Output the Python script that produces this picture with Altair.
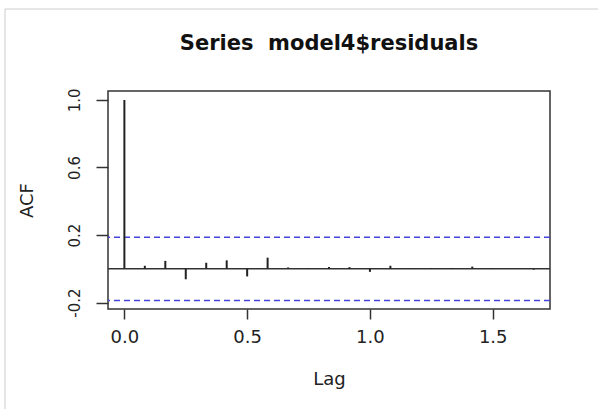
import altair as alt
import pandas as pd

# ---- data ----
lags = [0.0, 0.0833, 0.1667, 0.25, 0.3333, 0.4167, 0.5, 0.5833, 0.6667, 0.75,
        0.8333, 0.9167, 1.0, 1.0833, 1.1667, 1.25, 1.3333, 1.4167, 1.5, 1.5833, 1.6667]
acf_vals = [1.0, 0.018, 0.047, -0.062, 0.036, 0.05, -0.045, 0.066, 0.008, 0.002,
            0.01, 0.01, -0.018, 0.018, 0.002, 0.004, 0.005, 0.013, 0.004, 0.0, -0.005]
ci = 0.187
x_ticks = [0.0, 0.5, 1.0, 1.5]
y_ticks = [-0.2, 0.0, 0.2, 0.4, 0.6, 0.8, 1.0]
title_text = "Series \u00a0model4$residuals"

df = pd.DataFrame({"lag": lags, "acf": acf_vals, "zero": [0.0] * len(lags)})
ci_df = pd.DataFrame({"ci": [ci, -ci]})

FONT = "DejaVu Sans"
TXT = "#222222"

xscale = alt.Scale(domain=[-0.0667, 1.7333], nice=False, zero=False)
yscale = alt.Scale(domain=[-0.238, 1.053], nice=False, zero=False)

x_axis = alt.Axis(values=x_ticks, format=".1f", grid=False, domain=False,
                  tickSize=10, tickColor="#333333", tickWidth=1.5,
                  labelFont=FONT, labelFontSize=18, labelColor=TXT, labelPadding=9,
                  title="Lag", titleFont=FONT, titleFontSize=18, titleFontWeight="normal",
                  titleColor=TXT, titleX=221, titleY=75, titleBaseline="alphabetic",
                  titleAlign="center")
y_axis = alt.Axis(values=y_ticks, grid=False, domain=False,
                  tickSize=12, tickColor="#333333", tickWidth=1.5,
                  labelExpr="(abs(datum.value-1)<0.01||abs(datum.value-0.6)<0.01||abs(datum.value-0.2)<0.01) ? format(datum.value,'.1f') : (abs(datum.value+0.2)<0.01 ? '-0.2' : '')",
                  labelAngle=270, labelAlign="center", labelBaseline="bottom",
                  labelFont=FONT, labelFontSize=15, labelColor=TXT, labelPadding=14,
                  title="ACF", titleFont=FONT, titleFontSize=18, titleFontWeight="normal",
                  titleColor=TXT, titleAngle=270, titleX=-76, titleY=109,
                  titleAlign="center", titleBaseline="alphabetic")

base = alt.Chart(df)

spikes = base.mark_rule(color="#222222", strokeWidth=2).encode(
    x=alt.X("lag:Q", scale=xscale, axis=x_axis),
    y=alt.Y("zero:Q", scale=yscale, axis=y_axis),
    y2="acf:Q",
)

zero_line = alt.Chart(pd.DataFrame({"z": [0.0]})).mark_rule(
    color="#333333", strokeWidth=1.5
).encode(y=alt.Y("z:Q", scale=yscale))

ci_lines = alt.Chart(ci_df).mark_rule(
    color="#4646dc", strokeWidth=1.5, strokeDash=[6, 4]
).encode(y=alt.Y("ci:Q", scale=yscale))

# chart title drawn as a text mark above the plot box
title_mark = alt.Chart(pd.DataFrame({"t": [title_text]})).mark_text(
    font=FONT, fontSize=21, fontWeight="bold", color="#111111",
    align="center", baseline="alphabetic"
).encode(text="t:N", x=alt.value(221), y=alt.value(-41))

# outer frame of the screenshot (top and left edges only)
frame_top = alt.Chart(pd.DataFrame({"a": [0]})).mark_rule(
    color="#cccccc", strokeWidth=1
).encode(x=alt.value(-103), x2=alt.value(490), y=alt.value(-82))
frame_left = alt.Chart(pd.DataFrame({"a": [0]})).mark_rule(
    color="#cccccc", strokeWidth=1
).encode(x=alt.value(-103), y=alt.value(-82), y2=alt.value(320))

chart = alt.layer(frame_top, frame_left, title_mark, ci_lines, zero_line, spikes).properties(
    width=442, height=218,
    autosize=alt.AutoSizeParams(type="none"),
    padding={"left": 108, "top": 91, "right": 48, "bottom": 100},
    background="white",
).configure_view(stroke="#333333", strokeWidth=1.5)

chart.save("out.html", embed_options={"renderer": "svg", "actions": False})
